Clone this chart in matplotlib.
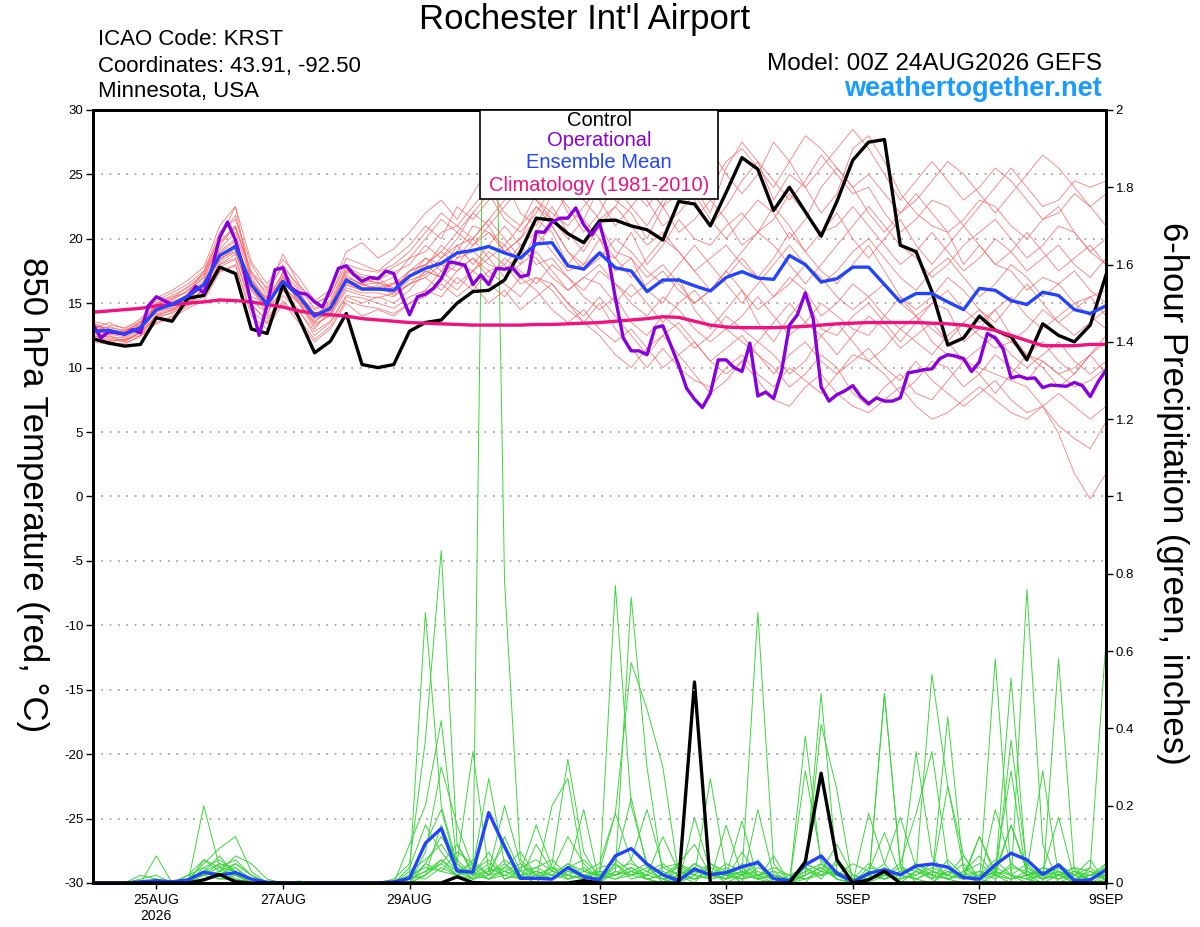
import numpy as np
import pandas as pd
import matplotlib
matplotlib.use('Agg')
import matplotlib.pyplot as plt
from matplotlib.patches import Rectangle

plt.rcParams['font.family'] = ['Liberation Sans', 'DejaVu Sans']

# time axes: ensemble 6-hourly, operational 3-hourly
times = pd.date_range('2026-08-24 00:00', periods=65, freq='6h')
times_op = pd.date_range('2026-08-24 00:00', periods=129, freq='3h')

tick_dates = ['2026-08-25', '2026-08-27', '2026-08-29', '2026-09-01',
              '2026-09-03', '2026-09-05', '2026-09-07', '2026-09-09']
tick_labels = ['25AUG\n2026', '27AUG', '29AUG', '1SEP', '3SEP', '5SEP', '7SEP', '9SEP']
temp_ticks = list(range(-30, 31, 5))
precip_ticks = [0, 0.2, 0.4, 0.6, 0.8, 1, 1.2, 1.4, 1.6, 1.8, 2]

# 850 hPa temperature (C)
control_t = [12.24, 11.9, 11.67, 11.8, 13.87, 13.6, 15.4, 15.6, 17.8, 17.3,
             13.0, 12.65, 16.45, 13.87, 11.15, 12.05, 14.2, 10.24, 10.0, 10.24,
             12.83, 13.5, 13.7, 15.0, 15.9, 16.0, 16.8, 19.0, 21.6, 21.45,
             20.4, 19.7, 21.4, 21.45, 21.0, 20.7, 19.9, 22.9, 22.7, 21.0,
             23.6, 26.3, 25.4, 22.2, 24.0, 22.1, 20.2, 22.9, 26.1, 27.5,
             27.7, 19.5, 19.0, 15.9, 11.75, 12.3, 14.0, 12.9, 12.4, 10.6,
             13.4, 12.5, 12.0, 13.3, 17.2]
mean_t = [12.8, 12.9, 12.6, 13.1, 14.5, 14.9, 15.55, 16.45, 18.7, 19.4,
          16.45, 14.9, 16.7, 15.55, 14.0, 14.6, 16.8, 16.1, 16.1, 16.0,
          17.1, 17.7, 18.1, 18.9, 19.1, 19.4, 18.9, 18.5, 19.6, 19.7,
          17.9, 17.65, 18.9, 17.75, 17.5, 15.9, 16.8, 16.8, 16.35, 15.95,
          17.0, 17.45, 16.95, 16.85, 18.7, 18.0, 16.65, 16.9, 17.8, 17.8,
          16.45, 15.1, 15.75, 15.75, 15.1, 14.5, 16.15, 16.0, 15.2, 14.9,
          15.85, 15.6, 14.5, 14.2, 14.8]
clim_t = [14.3, 14.4, 14.5, 14.6, 14.8, 14.9, 15.0, 15.1, 15.25, 15.2,
          15.1, 14.9, 14.7, 14.4, 14.2, 14.1, 14.0, 13.8, 13.7, 13.6,
          13.5, 13.45, 13.4, 13.35, 13.3, 13.3, 13.3, 13.3, 13.35, 13.35,
          13.4, 13.45, 13.5, 13.6, 13.7, 13.8, 13.95, 13.9, 13.6, 13.3,
          13.15, 13.1, 13.1, 13.1, 13.15, 13.2, 13.3, 13.4, 13.45, 13.5,
          13.5, 13.5, 13.5, 13.45, 13.4, 13.3, 13.1, 12.9, 12.5, 12.1,
          11.7, 11.7, 11.7, 11.8, 11.8]
oper_t = [13.35, 12.3, 12.8, 12.7, 12.6, 12.95, 12.7, 14.8, 15.5, 15.2,
          14.9, 15.2, 15.55, 16.3, 15.8, 17.6, 20.1, 21.3, 19.9, 17.75,
          14.9, 12.5, 14.9, 17.6, 17.75, 16.2, 15.8, 15.7, 15.1, 14.7,
          16.1, 17.7, 17.9, 17.2, 16.7, 17.0, 16.9, 17.5, 17.3, 15.6,
          14.1, 15.5, 15.7, 16.15, 16.9, 18.2, 18.1, 17.95, 16.45, 17.2,
          16.45, 17.7, 17.65, 17.75, 17.05, 17.2, 20.55, 20.5, 21.3, 21.6,
          21.6, 22.4, 21.1, 20.3, 21.2, 19.0, 15.4, 12.3, 11.3, 11.3,
          11.0, 13.1, 13.25, 11.75, 10.2, 8.4, 7.55, 6.9, 8.0, 10.6,
          10.6, 10.0, 9.7, 11.9, 7.8, 8.1, 7.6, 9.7, 13.3, 14.1,
          15.8, 13.8, 8.5, 7.4, 7.9, 8.2, 8.6, 7.75, 7.2, 7.65,
          7.4, 7.4, 7.65, 9.6, 9.7, 9.85, 9.9, 10.7, 11.0, 10.9,
          10.7, 9.7, 10.45, 12.65, 12.3, 11.45, 9.2, 9.35, 9.15, 9.2,
          8.45, 8.65, 8.6, 8.55, 8.85, 8.6, 7.75, 8.9, 9.8]

# ensemble members, temperature
t_m01 = [13.2, 12.8, 12.5, 13.0, 14.8, 15.3, 16.0, 17.0, 19.5, 21.0,
         17.5, 15.5, 17.2, 15.0, 13.5, 14.8, 17.5, 17.0, 16.5, 17.0,
         18.5, 19.0, 20.5, 21.0, 22.5, 24.0, 22.0, 21.0, 23.5, 24.5,
         22.0, 21.5, 24.0, 23.0, 22.0, 20.0, 22.5, 25.0, 24.0, 22.0,
         25.5, 27.5, 26.0, 23.0, 25.0, 24.0, 22.0, 23.5, 27.0, 28.0,
         26.0, 23.5, 22.0, 21.0, 20.5, 18.0, 19.5, 18.0, 17.5, 16.0,
         17.0, 16.5, 15.0, 15.5, 16.0]
t_m02 = [12.5, 12.0, 12.2, 12.5, 14.0, 14.5, 15.0, 16.0, 18.0, 18.5,
         15.0, 13.5, 16.0, 14.5, 12.5, 13.5, 15.5, 15.0, 15.5, 15.0,
         16.0, 17.5, 17.0, 18.0, 17.5, 19.0, 18.0, 16.5, 17.0, 16.0,
         14.5, 13.5, 15.0, 13.0, 11.5, 10.0, 11.5, 10.0, 9.0, 8.5,
         10.0, 11.0, 9.5, 8.5, 10.0, 9.0, 8.0, 9.5, 11.0, 10.5,
         9.5, 8.0, 9.0, 10.5, 10.0, 8.5, 9.5, 11.0, 10.0, 9.0,
         10.5, 9.5, 8.5, 9.0, 10.0]
t_m03 = [13.0, 12.5, 12.0, 12.8, 15.0, 15.5, 15.8, 17.5, 20.0, 22.5,
         16.5, 14.0, 17.5, 16.0, 14.0, 14.0, 17.0, 16.5, 17.0, 16.0,
         17.5, 18.0, 19.0, 20.5, 19.5, 21.0, 19.0, 20.0, 22.5, 21.0,
         19.0, 18.0, 20.0, 17.5, 18.5, 16.0, 15.0, 17.0, 14.5, 13.0,
         14.5, 16.0, 13.5, 12.0, 14.0, 15.5, 13.0, 12.5, 14.0, 15.0,
         13.5, 12.0, 13.5, 15.0, 14.5, 12.0, 13.0, 14.5, 12.5, 11.0,
         12.0, 10.5, 9.5, 11.0, 12.0]
t_m04 = [12.8, 13.2, 12.8, 13.5, 14.2, 14.5, 15.2, 16.5, 18.5, 19.0,
         15.5, 15.0, 16.5, 15.5, 14.5, 15.0, 16.5, 16.0, 16.0, 16.5,
         17.0, 18.5, 17.5, 19.5, 20.0, 18.5, 19.5, 18.0, 20.5, 19.0,
         17.5, 18.0, 19.0, 18.5, 20.5, 18.0, 19.5, 21.5, 20.0, 19.5,
         21.0, 22.0, 20.5, 21.5, 23.5, 22.0, 20.5, 21.0, 22.5, 21.0,
         19.5, 18.0, 19.0, 20.5, 19.0, 17.5, 18.5, 20.0, 19.0, 17.5,
         18.5, 19.5, 18.0, 17.0, 18.5]
t_m05 = [13.5, 12.8, 12.5, 13.2, 14.5, 14.8, 15.5, 16.2, 19.0, 20.0,
         16.0, 14.5, 16.0, 15.0, 13.0, 14.5, 17.0, 16.5, 16.0, 16.5,
         17.5, 18.5, 18.0, 19.0, 21.0, 20.5, 19.0, 20.0, 21.5, 20.5,
         18.0, 19.5, 21.0, 19.0, 18.5, 17.0, 18.0, 16.5, 15.0, 16.0,
         17.5, 16.0, 14.5, 15.5, 17.0, 16.0, 14.0, 15.0, 16.5, 15.5,
         14.0, 13.0, 14.0, 12.0, 11.0, 10.5, 10.0, 9.5, 9.0, 8.5,
         7.0, 4.9, 1.8, -0.2, 1.8]
t_m06 = [12.2, 12.0, 11.8, 12.5, 13.5, 14.0, 14.8, 15.5, 17.5, 18.0,
         14.0, 13.0, 15.0, 13.5, 12.0, 13.0, 15.0, 14.0, 14.5, 14.0,
         15.0, 16.0, 15.5, 17.0, 16.0, 17.5, 16.5, 15.5, 17.0, 16.5,
         15.0, 14.0, 15.5, 14.0, 12.5, 11.0, 12.5, 13.5, 12.0, 10.5,
         11.5, 12.5, 11.0, 9.5, 11.0, 12.0, 10.5, 9.5, 10.5, 11.5,
         10.0, 9.0, 10.5, 9.0, 8.0, 7.0, 8.0, 9.0, 7.5, 6.5,
         7.0, 5.5, 4.5, 3.7, 5.8]
t_m07 = [13.0, 13.5, 13.0, 13.8, 15.2, 15.8, 16.5, 17.5, 20.5, 21.5,
         18.0, 16.0, 18.8, 16.5, 15.0, 15.5, 18.5, 18.0, 17.5, 18.5,
         19.5, 21.0, 20.0, 22.5, 21.5, 23.0, 24.5, 22.0, 21.0, 23.5,
         25.0, 23.0, 21.5, 22.5, 24.5, 23.0, 21.0, 22.0, 23.5, 21.5,
         20.0, 21.5, 23.0, 22.0, 20.0, 21.5, 24.0, 25.5, 24.0, 22.0,
         20.5, 22.0, 23.5, 22.0, 20.5, 21.5, 23.0, 22.5, 21.0, 20.0,
         21.5, 22.5, 20.5, 19.0, 20.0]
t_m08 = [12.5, 12.2, 12.0, 12.8, 14.0, 14.2, 15.0, 15.8, 18.2, 19.0,
         15.2, 14.2, 16.2, 15.2, 13.8, 14.2, 16.2, 15.8, 15.8, 15.5,
         16.5, 17.0, 18.0, 17.5, 18.5, 17.5, 18.0, 19.5, 18.0, 18.5,
         17.0, 16.0, 17.5, 16.5, 15.0, 14.0, 15.5, 14.5, 13.0, 12.0,
         13.0, 12.0, 11.0, 10.0, 8.5, 9.5, 11.0, 10.0, 8.0, 7.0,
         8.5, 9.5, 8.0, 7.5, 9.0, 10.5, 9.5, 8.0, 9.5, 11.0,
         10.0, 8.5, 9.5, 11.0, 12.5]
t_m09 = [13.3, 12.9, 12.7, 13.3, 14.6, 15.0, 15.7, 16.8, 19.2, 20.5,
         16.8, 15.2, 17.0, 15.8, 14.2, 14.6, 17.2, 16.4, 16.6, 16.2,
         17.2, 17.8, 19.5, 18.5, 20.0, 21.5, 20.0, 18.5, 19.5, 21.0,
         19.0, 17.5, 18.5, 20.0, 19.0, 17.5, 16.5, 18.0, 19.5, 18.0,
         16.5, 15.0, 16.5, 18.0, 19.5, 18.0, 16.5, 17.5, 19.0, 20.0,
         18.5, 17.0, 16.0, 17.5, 18.5, 17.0, 15.5, 16.5, 18.0, 17.0,
         15.5, 16.5, 17.5, 16.0, 15.0]
t_m10 = [12.6, 12.4, 12.3, 12.9, 14.3, 14.7, 15.4, 16.3, 18.4, 19.2,
         16.2, 14.8, 16.6, 15.4, 13.6, 14.4, 16.6, 16.2, 16.2, 15.8,
         16.8, 17.2, 18.5, 19.5, 18.0, 19.5, 21.0, 19.5, 20.5, 22.5,
         20.5, 19.0, 21.0, 22.5, 21.0, 19.5, 20.5, 19.0, 17.5, 18.5,
         19.5, 18.0, 17.0, 18.5, 20.5, 19.0, 17.5, 16.5, 18.0, 19.5,
         17.5, 15.5, 14.5, 15.5, 17.0, 16.0, 14.5, 13.5, 15.0, 16.5,
         15.0, 13.5, 14.5, 15.5, 14.0]
t_m11 = [13.1, 12.6, 12.9, 13.4, 15.0, 15.6, 16.2, 17.2, 20.2, 21.8,
         17.2, 15.8, 18.0, 16.2, 14.6, 15.2, 17.8, 17.2, 17.0, 17.8,
         18.5, 20.0, 21.5, 20.5, 22.0, 21.0, 22.5, 24.0, 23.0, 21.5,
         23.5, 24.5, 23.0, 21.0, 22.5, 24.0, 22.5, 20.5, 21.5, 23.0,
         21.5, 19.5, 20.5, 22.5, 21.0, 19.0, 20.5, 22.0, 20.0, 18.5,
         20.0, 21.5, 19.5, 18.0, 19.5, 21.0, 19.5, 18.0, 19.0, 20.5,
         19.0, 17.5, 18.5, 19.5, 18.0]
t_m12 = [12.4, 12.6, 12.4, 13.0, 14.4, 14.6, 15.2, 16.0, 18.0, 18.8,
         16.0, 15.0, 16.4, 15.0, 13.4, 14.0, 16.0, 15.6, 15.4, 15.8,
         16.5, 17.5, 17.0, 18.5, 19.0, 18.0, 17.5, 19.0, 18.5, 17.0,
         16.0, 17.0, 18.0, 16.5, 15.5, 16.5, 17.5, 16.0, 15.0, 16.0,
         17.0, 18.5, 17.0, 15.5, 16.5, 18.0, 17.0, 15.5, 14.5, 15.5,
         16.5, 15.0, 14.0, 15.0, 16.0, 14.5, 13.5, 14.5, 15.5, 14.0,
         13.0, 14.0, 15.0, 14.0, 13.0]
t_m13 = [13.4, 13.0, 12.6, 13.2, 14.9, 15.2, 16.0, 17.0, 19.8, 21.0,
         17.0, 15.2, 17.4, 15.6, 14.0, 15.0, 17.6, 17.0, 16.8, 17.4,
         18.0, 19.5, 18.5, 20.0, 22.0, 23.5, 21.5, 20.5, 22.0, 24.0,
         22.5, 20.5, 22.0, 24.5, 26.0, 24.0, 22.5, 23.5, 25.5, 27.0,
         25.0, 23.5, 25.0, 27.5, 26.0, 24.0, 25.5, 27.0, 28.5, 27.0,
         25.0, 23.0, 24.5, 26.0, 24.5, 23.0, 24.0, 25.5, 24.5, 23.0,
         21.5, 22.0, 23.5, 22.5, 21.0]
t_m14 = [12.9, 12.3, 12.1, 12.7, 14.1, 14.4, 15.1, 16.1, 18.6, 19.6,
         16.4, 14.6, 16.8, 15.2, 13.2, 14.2, 16.4, 16.0, 16.4, 15.6,
         16.5, 17.0, 16.0, 17.5, 18.5, 17.0, 18.5, 17.5, 16.5, 18.0,
         17.0, 15.5, 14.5, 15.5, 13.5, 12.5, 14.0, 13.0, 11.5, 12.5,
         14.0, 13.0, 12.0, 13.5, 15.0, 13.5, 12.5, 11.0, 12.5, 14.0,
         13.0, 11.5, 12.5, 13.5, 12.0, 10.5, 11.5, 12.5, 11.0, 10.0,
         11.0, 12.0, 10.5, 9.5, 10.5]
t_m15 = [13.6, 13.3, 13.1, 13.6, 15.4, 16.0, 16.8, 17.8, 21.0, 22.5,
         18.2, 16.5, 18.4, 17.0, 15.2, 16.0, 19.0, 19.7, 18.5, 19.2,
         20.5, 22.0, 23.0, 21.5, 23.5, 25.5, 27.2, 25.5, 24.0, 25.0,
         26.5, 25.0, 23.5, 24.0, 22.5, 21.0, 23.0, 24.5, 23.0, 21.0,
         22.5, 24.5, 26.0, 24.5, 23.0, 24.5, 26.5, 25.0, 23.5, 24.0,
         22.0, 20.5, 21.5, 23.0, 22.5, 21.0, 22.5, 24.0, 25.5, 24.0,
         22.5, 23.0, 24.5, 24.0, 24.5]
t_m16 = [12.7, 12.7, 12.5, 13.1, 14.6, 14.9, 15.6, 16.6, 18.9, 19.8,
         16.6, 15.4, 16.8, 15.6, 14.2, 14.8, 16.8, 16.4, 16.2, 16.6,
         17.0, 18.0, 17.0, 16.0, 17.5, 16.5, 15.5, 17.0, 16.0, 14.5,
         13.5, 14.5, 13.0, 12.0, 13.0, 11.5, 10.0, 11.0, 12.0, 10.5,
         9.5, 10.5, 12.0, 11.0, 9.5, 10.5, 12.5, 13.5, 12.0, 10.5,
         11.5, 13.0, 12.0, 11.0, 12.5, 13.5, 12.5, 11.5, 12.0, 11.0,
         10.5, 9.5, 10.0, 11.0, 9.5]
t_m17 = [13.0, 12.9, 12.8, 13.3, 14.7, 15.1, 15.6, 16.4, 18.3, 19.4,
         16.8, 15.0, 17.0, 15.4, 14.0, 14.8, 17.4, 16.8, 16.6, 16.0,
         17.5, 18.0, 19.0, 18.0, 19.5, 20.5, 19.5, 21.0, 22.5, 21.5,
         20.0, 21.5, 20.0, 18.5, 17.0, 18.5, 20.0, 19.0, 17.5, 16.0,
         17.5, 19.0, 20.5, 19.5, 18.0, 16.5, 18.0, 19.5, 21.0, 22.5,
         21.0, 19.5, 18.5, 17.0, 18.0, 19.5, 20.5, 21.5, 20.0, 18.5,
         19.5, 21.0, 20.5, 19.0, 18.0]
t_m18 = [12.3, 12.1, 12.2, 12.7, 13.8, 14.3, 14.9, 15.8, 17.8, 18.4,
         14.8, 13.8, 15.6, 14.4, 12.8, 13.6, 15.6, 15.4, 15.0, 14.6,
         15.5, 16.0, 17.5, 16.5, 17.5, 18.5, 17.0, 18.0, 19.0, 17.5,
         16.0, 17.0, 16.5, 15.0, 16.5, 15.0, 13.5, 15.0, 16.0, 14.5,
         13.0, 14.0, 15.5, 14.0, 12.5, 13.5, 15.0, 14.0, 13.0, 12.5,
         14.0, 15.5, 14.0, 13.0, 12.0, 13.5, 14.5, 13.0, 12.0, 13.0,
         14.5, 13.5, 12.5, 13.5, 14.5]
t_m19 = [13.2, 13.1, 12.9, 13.5, 14.9, 15.4, 16.3, 17.3, 19.7, 20.8,
         17.4, 16.2, 17.8, 16.4, 15.0, 15.6, 18.0, 17.6, 17.4, 18.0,
         19.0, 20.5, 22.0, 21.0, 20.0, 21.5, 23.0, 24.5, 23.0, 22.0,
         21.0, 22.5, 24.0, 25.5, 24.0, 22.5, 24.0, 26.5, 25.0, 24.0,
         26.0, 27.0, 25.5, 24.0, 26.0, 28.0, 27.0, 25.5, 24.0, 25.0,
         23.5, 22.0, 23.0, 24.5, 26.0, 25.0, 23.5, 22.0, 23.5, 25.0,
         26.5, 25.5, 24.0, 22.5, 23.5]
t_m20 = [12.0, 11.8, 11.9, 12.4, 13.4, 13.9, 14.6, 15.2, 17.4, 17.9,
         14.4, 13.4, 15.2, 13.8, 12.2, 13.2, 15.2, 14.8, 14.6, 14.2,
         15.0, 15.5, 16.5, 15.5, 16.5, 15.0, 16.0, 14.5, 15.5, 16.5,
         15.0, 13.5, 12.5, 11.0, 10.0, 11.5, 12.5, 11.0, 9.5, 8.0,
         9.0, 10.5, 9.0, 7.5, 7.0, 8.5, 9.5, 8.0, 7.0, 6.5,
         7.5, 8.5, 7.0, 6.0, 6.5, 7.5, 8.5, 7.5, 6.5, 6.0,
         7.0, 8.0, 7.0, 6.0, 7.0]

# 6-hour precipitation (inches)
control_p = [0, 0, 0, 0, 0, 0, 0, 0.008, 0.022, 0.003,
             0, 0, 0, 0, 0, 0, 0, 0, 0, 0,
             0, 0, 0, 0.016, 0.001, 0, 0, 0, 0, 0,
             0, 0.006, 0, 0, 0, 0, 0, 0, 0.52, 0,
             0, 0, 0, 0, 0, 0.055, 0.284, 0.06, 0, 0.008,
             0.03, 0, 0, 0, 0, 0, 0, 0, 0, 0,
             0, 0, 0, 0, 0]
mean_p = [0, 0, 0, 0.003, 0.006, 0.003, 0.008, 0.028, 0.02, 0.027,
          0.01, 0.002, 0, 0, 0, 0, 0, 0, 0, 0.003,
          0.012, 0.103, 0.141, 0.031, 0.028, 0.182, 0.094, 0.012, 0.012, 0.01,
          0.04, 0.016, 0.008, 0.07, 0.089, 0.049, 0.021, 0.006, 0.036, 0.021,
          0.027, 0.042, 0.053, 0.011, 0.006, 0.047, 0.07, 0.025, 0.003, 0.025,
          0.034, 0.021, 0.044, 0.049, 0.041, 0.014, 0.01, 0.047, 0.077, 0.06,
          0.022, 0.047, 0.006, 0.008, 0.034]

p_m01 = [0, 0, 0, 0, 0.07, 0, 0, 0.2, 0.04, 0.01,
         0, 0, 0, 0, 0, 0, 0, 0, 0, 0,
         0.02, 0.7, 0.2, 0.05, 0.01, 0.03, 0.1, 0.02, 0, 0.05,
         0.32, 0.08, 0.01, 0.77, 0.2, 0.05, 0, 0, 0.02, 0.27,
         0.03, 0, 0.19, 0.02, 0, 0, 0.05, 0.02, 0, 0,
         0.49, 0.05, 0, 0, 0.03, 0.01, 0.12, 0.02, 0, 0.76,
         0.1, 0, 0.02, 0.06, 0]
p_m02 = [0, 0, 0, 0, 0, 0, 0.01, 0.05, 0.09, 0.12,
         0.03, 0, 0, 0, 0, 0, 0, 0, 0, 0.01,
         0.05, 0.37, 0.86, 0.1, 0.02, 0.08, 0.01, 0.03, 0.15, 0.04,
         0.01, 0.02, 0, 0.03, 0.74, 0.3, 0.02, 0, 0.04, 0.01,
         0.15, 0.02, 0.7, 0.05, 0, 0.02, 0.41, 0.24, 0, 0,
         0.02, 0.01, 0.34, 0.07, 0.01, 0, 0, 0.19, 0.05, 0.02,
         0, 0.58, 0.03, 0, 0.02]
p_m03 = [0, 0, 0, 0.02, 0.01, 0, 0.02, 0.06, 0.03, 0.07,
         0.05, 0.01, 0, 0, 0, 0, 0, 0, 0, 0,
         0.1, 0.2, 0.42, 0.05, 0.34, 0.03, 0.2, 0.05, 0.01, 0.2,
         0.27, 0.03, 0.05, 0.18, 0.57, 0.45, 0.3, 0.02, 0, 0.05,
         0.02, 0.16, 0.01, 0.07, 0, 0.38, 0.05, 0.01, 0, 0.18,
         0.05, 0, 0.03, 0.54, 0.25, 0.07, 0.01, 0, 0.37, 0.04,
         0.01, 0.03, 0, 0.04, 0.63]
p_m04 = [0, 0, 0, 0, 0, 0, 0.01, 0.03, 0.02, 0.05,
         0.02, 0, 0, 0, 0, 0, 0, 0, 0, 0,
         0.02, 0.1, 0.19, 0.04, 0.01, 3.15, 0.78, 0.06, 0.02, 0.01,
         0.03, 0.19, 0, 0.05, 0.22, 0.04, 0.01, 0, 0.17, 0.03,
         0, 0.02, 0.05, 0, 0, 0.02, 0.49, 0.03, 0, 0.03,
         0.13, 0.02, 0.01, 0, 0.04, 0.02, 0, 0.02, 0.15, 0.03,
         0.29, 0.02, 0, 0.01, 0.03]
p_m05 = [0, 0, 0, 0, 0, 0, 0, 0.04, 0.06, 0.03,
         0, 0, 0, 0, 0, 0, 0, 0, 0, 0,
         0, 0.08, 0.3, 0.15, 0.04, 0.27, 0.05, 0.01, 0.1, 0.03,
         0.12, 0.05, 0.01, 0.02, 0.06, 0.19, 0.04, 0.05, 0.02, 0.01,
         0.02, 0.04, 0.01, 0.02, 0, 0.29, 0.06, 0.01, 0, 0.02,
         0.05, 0.17, 0.04, 0.01, 0.43, 0.03, 0, 0.58, 0.02, 0,
         0.03, 0.17, 0.01, 0, 0.05]
p_m06 = [0, 0, 0, 0, 0.01, 0, 0, 0.03, 0.07, 0.02,
         0.01, 0, 0, 0, 0, 0, 0, 0, 0, 0,
         0.04, 0.15, 0.08, 0.03, 0.05, 0.02, 0.12, 0.03, 0.04, 0.02,
         0.05, 0.02, 0.03, 0.18, 0.06, 0.01, 0, 0.05, 0.03, 0.02,
         0.01, 0.03, 0.02, 0, 0, 0.05, 0.03, 0.02, 0, 0.01,
         0.02, 0.05, 0.18, 0.34, 0.05, 0.01, 0.02, 0.04, 0.29, 0.01,
         0, 0.02, 0.04, 0, 0.01]
p_m07 = [0, 0, 0, 0, 0, 0, 0.02, 0.04, 0.01, 0.02,
         0, 0, 0, 0, 0, 0, 0, 0, 0, 0,
         0.01, 0.05, 0.12, 0.06, 0.02, 0.01, 0.04, 0.08, 0.02, 0.01,
         0.04, 0.06, 0.02, 0.01, 0.03, 0.05, 0.02, 0.01, 0.05, 0.03,
         0.02, 0.01, 0.04, 0.02, 0.01, 0.03, 0.02, 0.05, 0.01, 0,
         0.49, 0.04, 0.01, 0.03, 0.02, 0.07, 0.01, 0.02, 0.53, 0.02,
         0.01, 0.05, 0.02, 0.01, 0.02]
p_m08 = [0, 0, 0, 0, 0, 0, 0.01, 0.02, 0.05, 0.04,
         0.01, 0, 0, 0, 0, 0, 0, 0, 0, 0,
         0.01, 0.03, 0.06, 0.02, 0.01, 0.04, 0.02, 0.01, 0.03, 0.02,
         0.01, 0.02, 0.01, 0.05, 0.02, 0.01, 0, 0.02, 0.05, 0.02,
         0.01, 0.02, 0.03, 0.01, 0, 0.03, 0.05, 0.02, 0, 0.04,
         0.03, 0.02, 0.05, 0.02, 0.25, 0.04, 0.01, 0.03, 0.15, 0.04,
         0.02, 0.04, 0.01, 0.02, 0.01]
p_m09 = [0, 0, 0, 0, 0, 0, 0, 0.01, 0.03, 0.02,
         0, 0, 0, 0, 0, 0, 0, 0, 0, 0,
         0, 0.02, 0.05, 0.1, 0.03, 0.01, 0.02, 0.04, 0.06, 0.03,
         0.02, 0.01, 0.03, 0.02, 0.04, 0.01, 0.02, 0.05, 0.1, 0.02,
         0.05, 0.03, 0.01, 0, 0.02, 0.04, 0.01, 0.06, 0.02, 0.01,
         0.03, 0.01, 0.02, 0.05, 0.02, 0.01, 0.02, 0.06, 0.02, 0.01,
         0.04, 0.02, 0.01, 0.03, 0.02]
p_m10 = [0, 0, 0, 0, 0, 0, 0.02, 0.02, 0.04, 0.06,
         0.02, 0, 0, 0, 0, 0, 0, 0, 0, 0,
         0.03, 0.06, 0.1, 0.04, 0.02, 0.05, 0.03, 0.02, 0.01, 0.04,
         0.03, 0.02, 0.01, 0.04, 0.05, 0.03, 0.01, 0.02, 0.01, 0.04,
         0.02, 0.01, 0.02, 0.03, 0, 0.02, 0.04, 0.01, 0, 0.02,
         0.01, 0.03, 0.04, 0.02, 0.01, 0.03, 0.05, 0.02, 0.04, 0.03,
         0.01, 0.02, 0.03, 0.02, 0.05]
p_m11 = [0, 0, 0, 0, 0, 0, 0, 0.03, 0.02, 0.04,
         0, 0, 0, 0, 0, 0, 0, 0, 0, 0,
         0.02, 0.04, 0.03, 0.08, 0.05, 0.02, 0.06, 0.03, 0.01, 0.02,
         0.05, 0.03, 0.02, 0.06, 0.03, 0.02, 0.01, 0.03, 0.02, 0.05,
         0.03, 0.02, 0.06, 0.01, 0, 0.04, 0.02, 0.03, 0.01, 0.05,
         0.02, 0.04, 0.03, 0.01, 0.06, 0.02, 0.12, 0.03, 0.01, 0.02,
         0.03, 0.01, 0.02, 0.04, 0.01]
p_m12 = [0, 0, 0, 0.01, 0.02, 0, 0, 0.06, 0.04, 0.03,
         0.01, 0, 0, 0.005, 0, 0, 0, 0, 0, 0,
         0.01, 0.03, 0.05, 0.02, 0.04, 0.01, 0.03, 0.05, 0.02, 0.01,
         0.02, 0.04, 0.01, 0.03, 0.02, 0.04, 0.03, 0.01, 0.03, 0.02,
         0.04, 0.02, 0.01, 0.02, 0.01, 0.05, 0.03, 0.02, 0, 0.02,
         0.04, 0.02, 0.01, 0.03, 0.02, 0.05, 0.01, 0.04, 0.02, 0.01,
         0.02, 0.03, 0.01, 0.02, 0.03]
p_m13 = [0, 0, 0, 0, 0, 0, 0.01, 0.02, 0.01, 0.01,
         0, 0, 0, 0, 0, 0, 0, 0, 0, 0,
         0.02, 0.01, 0.04, 0.02, 0.03, 0.06, 0.01, 0.02, 0.04, 0.06,
         0.02, 0.01, 0.04, 0.05, 0.01, 0.02, 0.04, 0.02, 0.01, 0.03,
         0.01, 0.05, 0.02, 0.04, 0.02, 0.01, 0.03, 0.02, 0.05, 0.03,
         0.01, 0.02, 0.05, 0.03, 0.01, 0.02, 0.03, 0.01, 0.05, 0.02,
         0.03, 0.02, 0.01, 0.02, 0.04]
p_m14 = [0, 0, 0, 0, 0, 0, 0, 0.02, 0.03, 0.05,
         0.02, 0, 0, 0, 0, 0, 0, 0, 0, 0,
         0, 0.02, 0.15, 0.05, 0.02, 0.03, 0.04, 0.02, 0.01, 0.03,
         0.02, 0.01, 0.03, 0.02, 0.04, 0.02, 0.12, 0.03, 0.01, 0.02,
         0.01, 0.08, 0.02, 0.01, 0, 0.01, 0.03, 0.1, 0.02, 0.01,
         0.02, 0.01, 0.03, 0.02, 0.01, 0.03, 0.07, 0.02, 0.01, 0.03,
         0.02, 0.01, 0.03, 0.01, 0.02]
p_m15 = [0, 0, 0, 0, 0, 0, 0.01, 0.03, 0.05, 0.03,
         0, 0, 0, 0, 0, 0, 0, 0, 0, 0,
         0.01, 0.02, 0.06, 0.03, 0.01, 0.02, 0.05, 0.02, 0.03, 0.01,
         0.03, 0.02, 0.01, 0.02, 0.03, 0.01, 0.02, 0.04, 0.02, 0.01,
         0.02, 0.03, 0.01, 0.02, 0.01, 0.02, 0.04, 0.01, 0, 0.01,
         0.03, 0.02, 0.04, 0.01, 0.03, 0.02, 0.01, 0.03, 0.02, 0.05,
         0.01, 0.02, 0.04, 0.03, 0.01]
p_m16 = [0, 0, 0, 0, 0, 0, 0, 0.01, 0.02, 0.01,
         0, 0, 0, 0, 0, 0, 0, 0, 0, 0,
         0, 0.05, 0.03, 0.02, 0.06, 0.02, 0.03, 0.01, 0.02, 0.04,
         0.01, 0.03, 0.02, 0.01, 0.02, 0.03, 0.05, 0.02, 0.04, 0.02,
         0.03, 0.01, 0.02, 0.03, 0.02, 0.01, 0.02, 0.03, 0.01, 0.02,
         0.01, 0.03, 0.02, 0.04, 0.02, 0.01, 0.03, 0.02, 0.01, 0.02,
         0.04, 0.03, 0.02, 0.01, 0.02]

temp_members = [t_m01, t_m02, t_m03, t_m04, t_m05, t_m06, t_m07, t_m08, t_m09, t_m10,
                t_m11, t_m12, t_m13, t_m14, t_m15, t_m16, t_m17, t_m18, t_m19, t_m20]
precip_members = [p_m01, p_m02, p_m03, p_m04, p_m05, p_m06, p_m07, p_m08,
                  p_m09, p_m10, p_m11, p_m12, p_m13, p_m14, p_m15, p_m16]

fig = plt.figure(figsize=(12, 9.27), dpi=100)
ax = fig.add_axes([0.0775, 0.0475, 0.8442, 0.8339])
ax2 = ax.twinx()
ax.set_zorder(2)
ax2.set_zorder(1)
ax.patch.set_visible(False)

# precipitation on the right axis
for m in precip_members:
    ax2.plot(times, m, color='#3cd63c', lw=0.7)
ax2.plot(times, mean_p, color='#2244ff', lw=2.4)
ax2.plot(times, control_p, color='black', lw=2.4)

# temperature on the left axis
for m in temp_members:
    ax.plot(times, m, color='#ff5a5a', lw=0.55, alpha=0.85)
ax.plot(times, control_t, color='black', lw=2.4)
ax.plot(times, clim_t, color='#f0127f', lw=2.4)
ax.plot(times_op, oper_t, color='#8800dd', lw=2.4)
ax.plot(times, mean_t, color='#2244ff', lw=2.4)

ax.set_xlim(times[0], times[-1])
ax.set_ylim(-30, 30)
ax2.set_ylim(0, 2)
ax.set_yticks(temp_ticks)
ax.set_yticklabels([str(v) for v in temp_ticks], fontsize=9.5)
ax2.set_yticks(precip_ticks)
ax2.set_yticklabels([str(v) for v in precip_ticks], fontsize=9.5)
ax.set_xticks(pd.to_datetime(tick_dates))
ax.set_xticklabels(tick_labels, fontsize=10)

ax.grid(axis='y', linestyle=(0, (1, 4)), color='#999999', lw=1.2)
ax.grid(axis='x', visible=False)
ax2.grid(False)

for a in (ax, ax2):
    for s in a.spines.values():
        s.set_linewidth(2)
ax.tick_params(axis='y', length=5, width=1, pad=2)
ax2.tick_params(axis='y', length=5, width=1, pad=2)
ax.tick_params(axis='x', length=4, width=1, pad=3)

# axis titles
fig.text(0.0267, 0.466, '850 hPa Temperature (red, °C)', rotation=-90,
         ha='center', va='center', fontsize=25)
fig.text(0.9767, 0.468, '6-hour Precipitation (green, inches)', rotation=-90,
         ha='center', va='center', fontsize=25)

# header
fig.text(0.4875, 0.9795, "Rochester Int'l Airport", ha='center', va='center', fontsize=25)
fig.text(0.0817, 0.9569, 'ICAO Code: KRST', ha='left', va='center', fontsize=16)
fig.text(0.0817, 0.9288, 'Coordinates: 43.91, -92.50', ha='left', va='center', fontsize=16)
fig.text(0.0817, 0.9008, 'Minnesota, USA', ha='left', va='center', fontsize=16)
fig.text(0.9183, 0.931, 'Model: 00Z 24AUG2026 GEFS', ha='right', va='center', fontsize=17.5)
fig.text(0.9183, 0.904, 'weathertogether.net', ha='right', va='center',
         fontsize=19.5, fontweight='bold', color='#1a9cff')

# legend box
fig.add_artist(Rectangle((0.4, 0.7853), 0.1983, 0.0960, transform=fig.transFigure,
                         facecolor='white', edgecolor='black', lw=1.2, zorder=10))
legend_items = [('Control', 'black', 0.8695),
                ('Operational', '#8800dd', 0.8479),
                ('Ensemble Mean', '#2244ff', 0.8242),
                ('Climatology (1981-2010)', '#f0127f', 0.8004)]
for label, col, yy in legend_items:
    fig.text(0.4992, yy, label, ha='center', va='center', fontsize=14.5,
             color=col, zorder=11)

fig.savefig('out.png', dpi=100)
